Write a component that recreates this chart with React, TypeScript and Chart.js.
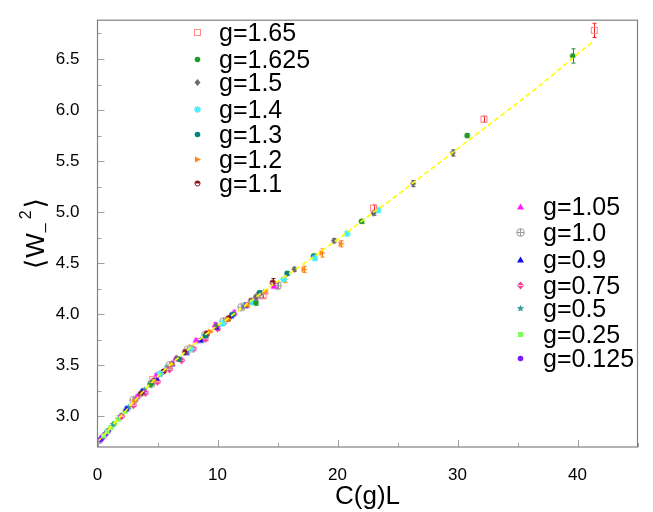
import React, { useEffect, useRef } from 'react';
import { Chart, registerables } from 'chart.js';

Chart.register(...registerables);

// ---------- data ----------
const xTickValues = [0, 10, 20, 30, 40];
const yTickValues = [3.0, 3.5, 4.0, 4.5, 5.0, 5.5, 6.0, 6.5];
const xTitle = 'C(g)L';

const labels = ['g=1.65', 'g=1.625', 'g=1.5', 'g=1.4', 'g=1.3', 'g=1.2', 'g=1.1',
  'g=1.05', 'g=1.0', 'g=0.9', 'g=0.75', 'g=0.5', 'g=0.25', 'g=0.125'];

const x165 = [4.6, 13.8, 23.0, 32.2, 41.4];
const y165 = [3.36, 4.18, 5.04, 5.91, 6.78];
const e165 = [0.01, 0.02, 0.03, 0.03, 0.07];

const x1625 = [4.4, 13.2, 22.0, 30.8, 39.6];
const y1625 = [3.31, 4.11, 4.91, 5.75, 6.53];
const e1625 = [0.01, 0.02, 0.02, 0.02, 0.07];

const x150 = [6.6, 9.9, 13.2, 16.4, 19.7, 23.0, 26.3, 29.6];
const y150 = [3.57, 3.89, 4.17, 4.44, 4.72, 4.99, 5.28, 5.58];
const e150 = [0.01, 0.01, 0.02, 0.02, 0.02, 0.02, 0.03, 0.03];

const x140 = [5.2, 7.8, 10.4, 12.9, 15.5, 18.1, 20.8, 23.4];
const y140 = [3.42, 3.66, 3.91, 4.12, 4.34, 4.55, 4.79, 5.02];
const e140 = [0.01, 0.01, 0.02, 0.02, 0.02, 0.02, 0.02, 0.02];

const x130 = [4.5, 6.8, 9.0, 11.3, 13.5, 15.8, 18.0];
const y130 = [3.33, 3.56, 3.79, 4.0, 4.21, 4.40, 4.57];
const e130 = [0.01, 0.01, 0.01, 0.02, 0.02, 0.02, 0.02];

const x120 = [3.1, 4.7, 6.2, 7.8, 9.4, 10.9, 12.5, 14.0, 15.6, 17.2, 18.7, 20.3];
const y120 = [3.15, 3.34, 3.51, 3.68, 3.83, 3.95, 4.09, 4.22, 4.34, 4.44, 4.60, 4.69];
const e120 = [0.01, 0.01, 0.01, 0.01, 0.01, 0.02, 0.02, 0.02, 0.03, 0.03, 0.04, 0.03];

const x110 = [3.6, 5.5, 7.3, 9.1, 10.9, 12.8, 14.6];
const y110 = [3.22, 3.44, 3.63, 3.81, 3.96, 4.13, 4.31];
const e110 = [0.01, 0.01, 0.01, 0.02, 0.02, 0.02, 0.04];

const x105 = [3.3, 4.9, 6.5, 8.2, 9.8, 11.4, 13.1, 14.7];
const y105 = [3.20, 3.41, 3.57, 3.75, 3.90, 4.02, 4.16, 4.28];
const e105 = [0.01, 0.01, 0.01, 0.01, 0.02, 0.02, 0.02, 0.02];

const x100 = [3.0, 4.5, 6.0, 7.5, 9.0, 10.5, 12.0, 13.5, 15.0];
const y100 = [3.16, 3.32, 3.50, 3.65, 3.80, 3.93, 4.07, 4.19, 4.28];
const e100 = [0.01, 0.01, 0.01, 0.01, 0.02, 0.02, 0.02, 0.03, 0.03];

const x090 = [2.4, 3.7, 4.9, 6.2, 7.4, 8.6, 9.9, 11.1, 12.3];
const y090 = [3.08, 3.25, 3.38, 3.52, 3.63, 3.75, 3.88, 3.99, 4.09];
const e090 = [0.01, 0.01, 0.01, 0.01, 0.01, 0.01, 0.02, 0.02, 0.02];

const x075 = [2.0, 3.0, 4.0, 5.0, 6.0, 7.0, 8.0, 9.0, 10.0];
const y075 = [3.00, 3.11, 3.23, 3.34, 3.46, 3.55, 3.66, 3.76, 3.86];
const e075 = [0.01, 0.01, 0.01, 0.01, 0.01, 0.01, 0.01, 0.02, 0.02];

const x050 = [1.3, 1.9, 2.6, 3.2, 3.9, 4.5, 5.2, 5.8];
const y050 = [2.92, 3.00, 3.09, 3.17, 3.26, 3.33, 3.41, 3.48];
const e050 = [0.01, 0.01, 0.01, 0.01, 0.01, 0.01, 0.01, 0.01];

const x025 = [0.5, 0.8, 1.1, 1.4, 1.7, 2.0, 2.3];
const y025 = [2.81, 2.85, 2.89, 2.93, 2.97, 3.01, 3.05];
const e025 = [0.005, 0.005, 0.005, 0.005, 0.01, 0.01, 0.01];

const x0125 = [0.15, 0.25, 0.35, 0.45, 0.6, 0.75, 0.9];
const y0125 = [2.76, 2.77, 2.79, 2.80, 2.82, 2.84, 2.86];
const e0125 = [0.005, 0.005, 0.005, 0.005, 0.005, 0.005, 0.005];

const fitX = [0, 1, 2, 3, 4, 5, 6, 7, 8, 9, 10, 11, 12, 13, 14, 15, 16, 17, 18, 19, 20,
  21, 22, 23, 24, 25, 26, 27, 28, 29, 30, 32, 34, 36, 38, 40, 41.4];
const fitY = [2.75, 2.88, 3.01, 3.14, 3.27, 3.39, 3.50, 3.60, 3.70, 3.80, 3.89, 3.97, 4.06,
  4.15, 4.24, 4.32, 4.40, 4.48, 4.56, 4.65, 4.73, 4.82, 4.91, 5.0, 5.08, 5.17, 5.26, 5.35,
  5.44, 5.53, 5.62, 5.80, 5.98, 6.16, 6.35, 6.55, 6.68];

// ---------- styles ----------
const seriesX = [x165, x1625, x150, x140, x130, x120, x110, x105, x100, x090, x075, x050, x025, x0125];
const seriesY = [y165, y1625, y150, y140, y130, y120, y110, y105, y100, y090, y075, y050, y025, y0125];
const seriesE = [e165, e1625, e150, e140, e130, e120, e110, e105, e100, e090, e075, e050, e025, e0125];
const colors = ['#ff8a8a', '#1f9a2a', '#6a6a6a', '#40f0ff', '#00857f', '#ff8a1a', '#8c1414',
  '#ff1aff', '#9a9a9a', '#1010e6', '#ff3a96', '#3a9e9e', '#7dff5a', '#7a1aff'];
const errColors = ['#ff2020', '#1f8a2a', '#555555', '#30d8e8', '#00756f', '#ff7a00', '#8c1414',
  '#ff1aff', '#888888', '#1010e6', '#ff3a96', '#3a9e9e', '#60e040', '#7a1aff'];
const shapes = ['openSquare', 'circle', 'diamond', 'asterisk', 'circle', 'triRight', 'halfCircle',
  'triUp', 'circlePlus', 'triUp', 'diamondX', 'star', 'square', 'circle'];

const FONT = '"Liberation Sans", Arial, sans-serif';

function makeMarker(shape: string, color: string): HTMLCanvasElement {
  const s = shape === 'circlePlus' ? 11 : 9;
  const c = document.createElement('canvas');
  c.width = s;
  c.height = s;
  const ctx = c.getContext('2d')!;
  const m = s / 2;
  ctx.fillStyle = color;
  ctx.strokeStyle = color;
  ctx.lineWidth = 1;
  ctx.beginPath();
  switch (shape) {
    case 'openSquare':
      ctx.strokeRect(1.5, 1.5, 6, 6);
      break;
    case 'circle':
      ctx.arc(m, m, 2.8, 0, Math.PI * 2);
      ctx.fill();
      break;
    case 'halfCircle':
      ctx.arc(m, m, 2.8, Math.PI, Math.PI * 2);
      ctx.closePath();
      ctx.fill();
      ctx.beginPath();
      ctx.arc(m, m, 2.5, 0, Math.PI * 2);
      ctx.stroke();
      break;
    case 'diamond':
      ctx.moveTo(m, 1); ctx.lineTo(s - 1.5, m); ctx.lineTo(m, s - 1); ctx.lineTo(1.5, m);
      ctx.closePath(); ctx.fill();
      break;
    case 'diamondX':
      ctx.moveTo(m, 0.5); ctx.lineTo(s - 1, m); ctx.lineTo(m, s - 0.5); ctx.lineTo(1, m);
      ctx.closePath(); ctx.fill();
      ctx.strokeStyle = '#ffd0e6';
      ctx.beginPath(); ctx.moveTo(2, m); ctx.lineTo(s - 2, m); ctx.stroke();
      break;
    case 'asterisk':
      ctx.lineWidth = 1.4;
      ctx.moveTo(m, 1); ctx.lineTo(m, s - 1);
      ctx.moveTo(1, m); ctx.lineTo(s - 1, m);
      ctx.moveTo(2, 2); ctx.lineTo(s - 2, s - 2);
      ctx.moveTo(s - 2, 2); ctx.lineTo(2, s - 2);
      ctx.stroke();
      break;
    case 'triRight':
      ctx.moveTo(2, 1.5); ctx.lineTo(s - 1, m); ctx.lineTo(2, s - 1.5);
      ctx.closePath(); ctx.fill();
      break;
    case 'triUp':
      ctx.moveTo(m, 1.5); ctx.lineTo(s - 1, s - 1.5); ctx.lineTo(1, s - 1.5);
      ctx.closePath(); ctx.fill();
      break;
    case 'circlePlus':
      ctx.arc(m, m, 3.8, 0, Math.PI * 2);
      ctx.stroke();
      ctx.beginPath();
      ctx.moveTo(m, m - 3.8); ctx.lineTo(m, m + 3.8);
      ctx.moveTo(m - 3.8, m); ctx.lineTo(m + 3.8, m);
      ctx.stroke();
      break;
    case 'star': {
      for (let i = 0; i < 10; i++) {
        const r = i % 2 === 0 ? 3.8 : 1.7;
        const a = -Math.PI / 2 + (i * Math.PI) / 5;
        const px = m + r * Math.cos(a);
        const py = m + r * Math.sin(a);
        if (i === 0) ctx.moveTo(px, py); else ctx.lineTo(px, py);
      }
      ctx.closePath(); ctx.fill();
      break;
    }
    case 'square':
      ctx.fillRect(2, 2, 5, 5);
      break;
  }
  return c;
}

// layout constants
const AREA = { left: 97.5, right: 637.5, top: 9, bottom: 447 };
const legend1 = { markerX: 197, textX: 219, rows: [32, 59, 82, 109, 134, 159, 183] };
const legend2 = { markerX: 520, textX: 543, rows: [206, 232, 259, 285, 308, 334, 358] };

export default function App() {
  const ref = useRef<HTMLCanvasElement | null>(null);

  useEffect(() => {
    document.body.style.margin = '0';
    const canvas = ref.current;
    if (!canvas) return;
    const markers = shapes.map((s, i) => makeMarker(s, colors[i]));

    const datasets: any[] = labels.map((lab, i) => ({
      type: 'scatter',
      label: lab,
      data: seriesX[i].map((x, j) => ({ x, y: seriesY[i][j] })),
      err: seriesE[i],
      errColor: errColors[i],
      pointStyle: markers[i],
      pointRadius: 3,
      pointHoverRadius: 3,
      order: 1,
    }));
    datasets.push({
      type: 'line',
      label: 'fit',
      data: fitX.map((x, j) => ({ x, y: fitY[j] })),
      borderColor: '#ffff00',
      borderWidth: 1.6,
      borderDash: [5, 3],
      pointRadius: 0,
      tension: 0,
      fill: false,
      order: 0,
    });

    const deco = {
      id: 'deco',
      beforeDatasetsDraw(chart: any) {
        const ctx = chart.ctx;
        const ys = chart.scales.y;
        const ca = chart.chartArea;
        ctx.save();
        ctx.beginPath();
        ctx.rect(ca.left, ca.top, ca.right - ca.left, ca.bottom - ca.top);
        ctx.clip();
        chart.data.datasets.forEach((ds: any, i: number) => {
          if (!ds.err) return;
          const meta = chart.getDatasetMeta(i);
          ctx.strokeStyle = ds.errColor;
          ctx.lineWidth = 1;
          meta.data.forEach((pt: any, j: number) => {
            const v = ds.data[j].y;
            const e = ds.err[j];
            const t = ys.getPixelForValue(v + e);
            const b = ys.getPixelForValue(v - e);
            const x = Math.round(pt.x) + 0.5;
            ctx.beginPath();
            ctx.moveTo(x, t); ctx.lineTo(x, b);
            ctx.moveTo(x - 2, t); ctx.lineTo(x + 2, t);
            ctx.moveTo(x - 2, b); ctx.lineTo(x + 2, b);
            ctx.stroke();
          });
        });
        ctx.restore();
      },
      afterDraw(chart: any) {
        const ctx = chart.ctx;
        const xs = chart.scales.x;
        const ys = chart.scales.y;
        const ca = chart.chartArea;
        ctx.save();
        // ticks
        ctx.strokeStyle = '#a0a0a0';
        ctx.lineWidth = 1;
        ctx.beginPath();
        for (let v = 0; v <= 45; v += 5) {
          const px = Math.round(xs.getPixelForValue(v)) + 0.5;
          const len = v % 10 === 0 ? 7 : 4;
          ctx.moveTo(px, ca.bottom); ctx.lineTo(px, ca.bottom - len);
        }
        for (let k = 0; k <= 16; k++) {
          const v = 2.75 + k * 0.25;
          if (v > 6.88) break;
          const py = Math.round(ys.getPixelForValue(v)) + 0.5;
          const major = Math.abs((v * 2) - Math.round(v * 2)) < 1e-6;
          const len = major ? 7 : 4;
          ctx.moveTo(ca.left, py); ctx.lineTo(ca.left + len, py);
        }
        ctx.stroke();
        // box
        ctx.strokeStyle = '#808080';
        ctx.lineWidth = 1.2;
        ctx.strokeRect(ca.left, ca.top, ca.right - ca.left, ca.bottom - ca.top);

        // x title
        ctx.fillStyle = '#000';
        ctx.font = `26px ${FONT}`;
        ctx.textAlign = 'center';
        ctx.textBaseline = 'alphabetic';
        ctx.fillText(xTitle, (ca.left + ca.right) / 2, 504);

        // y title: <W_-^2>
        ctx.translate(0, (ca.top + ca.bottom) / 2);
        ctx.rotate(-Math.PI / 2);
        const big = `26px ${FONT}`;
        const bracketFont = `27px "DejaVu Sans", sans-serif`;
        const small = `16px ${FONT}`;
        const parts = [
          { t: '\u27E8', f: bracketFont, dy: 0, gap: 1 },
          { t: 'W', f: big, dy: 0, gap: 1 },
          { t: '_', f: small, dy: -1, gap: 4 },
          { t: '2', f: small, dy: -13, gap: 2 },
          { t: '\u27E9', f: bracketFont, dy: 0, gap: 0 },
        ];
        let total = 0;
        const widths = parts.map((p) => { ctx.font = p.f; const w = ctx.measureText(p.t).width; total += w + p.gap; return w; });
        let u = -total / 2;
        ctx.textAlign = 'left';
        parts.forEach((p, i) => {
          ctx.font = p.f;
          ctx.fillText(p.t, u, 44 + p.dy);
          u += widths[i] + p.gap;
        });
        ctx.setTransform(1, 0, 0, 1, 0, 0);

        // legends
        const drawLegend = (lg: any, start: number) => {
          lg.rows.forEach((ry: number, k: number) => {
            const idx = start + k;
            const mk = markers[idx];
            ctx.drawImage(mk, Math.round(lg.markerX - mk.width / 2), Math.round(ry - mk.height / 2));
            ctx.fillStyle = '#000';
            ctx.font = `25px ${FONT}`;
            ctx.textAlign = 'left';
            ctx.textBaseline = 'alphabetic';
            ctx.fillText(labels[idx], lg.textX, ry + 8.5);
          });
        };
        drawLegend(legend1, 0);
        drawLegend(legend2, 7);
        ctx.restore();
      },
    };

    const chart = new Chart(canvas, {
      type: 'scatter',
      data: { datasets },
      options: {
        animation: false,
        responsive: false,
        maintainAspectRatio: false,
        events: [],
        layout: { padding: { left: 0, top: AREA.top, right: 653 - AREA.right, bottom: 0 } },
        plugins: { legend: { display: false }, tooltip: { enabled: false } },
        scales: {
          x: {
            type: 'linear',
            min: 0,
            max: 45,
            afterBuildTicks: (s: any) => { s.ticks = xTickValues.map((v) => ({ value: v })); },
            afterFit: (s: any) => { s.height = 512 - AREA.bottom; },
            grid: { display: false },
            border: { display: false },
            ticks: { color: '#000', font: { family: FONT, size: 17 }, padding: 10, maxRotation: 0 },
          },
          y: {
            type: 'linear',
            min: 2.7,
            max: 6.88,
            afterBuildTicks: (s: any) => { s.ticks = yTickValues.map((v) => ({ value: v })); },
            afterFit: (s: any) => { s.width = AREA.left; },
            grid: { display: false },
            border: { display: false },
            ticks: {
              color: '#000',
              font: { family: FONT, size: 17 },
              padding: 10,
              callback: (v: any) => Number(v).toFixed(1),
            },
          },
        },
      },
      plugins: [deco],
    } as any);

    return () => chart.destroy();
  }, []);

  return (
    <canvas ref={ref} width={653} height={512} style={{ display: 'block', width: 653, height: 512 }} />
  );
}
